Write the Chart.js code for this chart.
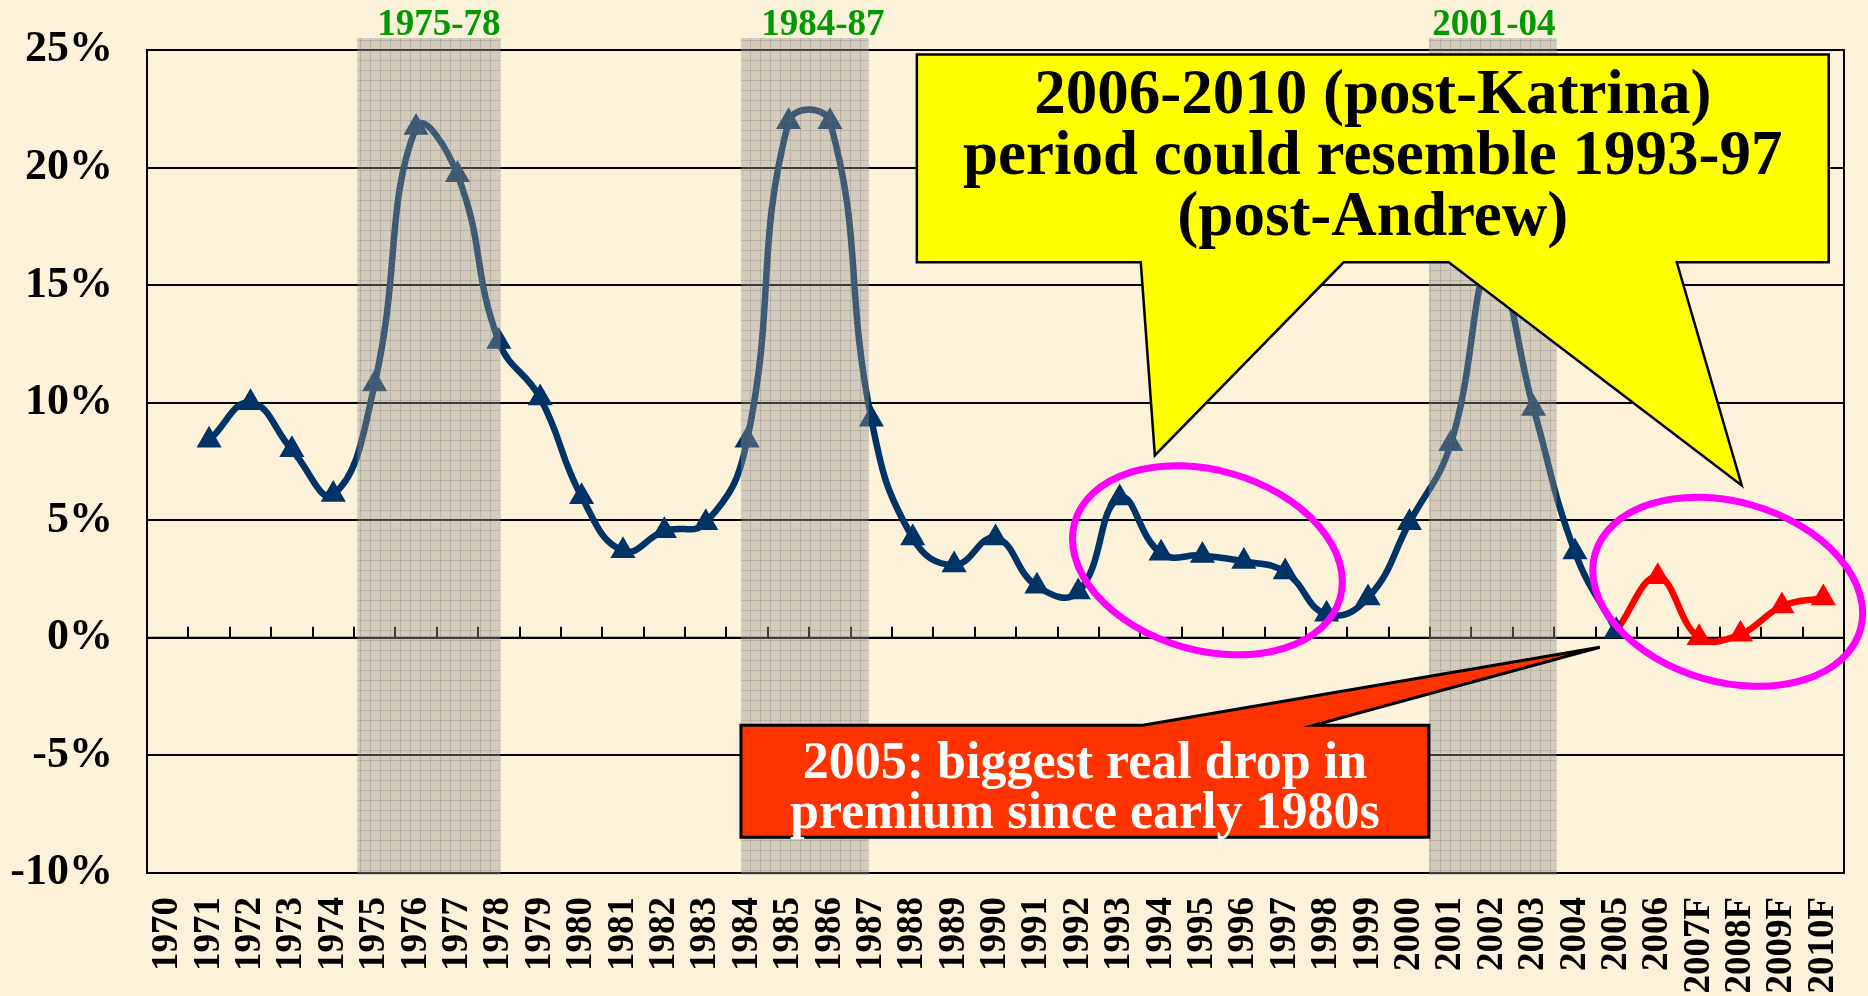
<!DOCTYPE html>
<html>
<head>
<meta charset="utf-8">
<script src="https://cdn.jsdelivr.net/npm/chart.js@4.4.1/dist/chart.umd.min.js"></script>
<style>
html,body{margin:0;padding:0;background:#fcf2da;}
canvas{display:block;}
</style>
</head>
<body>
<canvas id="c" width="1868" height="996"></canvas>
<script>
// ---------- data ----------
const years = ['1970','1971','1972','1973','1974','1975','1976','1977','1978','1979',
  '1980','1981','1982','1983','1984','1985','1986','1987','1988','1989',
  '1990','1991','1992','1993','1994','1995','1996','1997','1998','1999',
  '2000','2001','2002','2003','2004','2005','2006','2007F','2008F','2009F','2010F'];

const actualGrowth = [null, 8.4, 10.0, 8.0, 6.1, 10.8, 21.7, 19.7, 12.6, 10.2,
  6.0, 3.7, 4.55, 4.9, 8.4, 21.95, 21.95, 9.3, 4.25, 3.1,
  4.25, 2.2, 1.95, 5.95, 3.6, 3.5, 3.25, 2.8, 1.0, 1.7,
  4.9, 8.25, 16.0, 9.75, 3.65, 0.3, null, null, null, null, null];

const forecastGrowth = [null, null, null, null, null, null, null, null, null, null,
  null, null, null, null, null, null, null, null, null, null,
  null, null, null, null, null, null, null, null, null, null,
  null, null, null, null, null, 0.3, 2.6, 0.0, 0.15, 1.35, 1.7];

const yMin = -10, yMax = 25, yStep = 5;

// hard-market periods (category index range) and their labels
const hardMarketLabels = ['1975-78', '1984-87', '2001-04'];
const hardMarketFrom   = [4.58, 13.85, 30.47];
const hardMarketTo     = [8.04, 16.94, 33.56];
const hardMarketLabelAt = [6.55, 15.83, 32.04];

// callout texts
const yellowText = ['2006-2010 (post-Katrina)', 'period could resemble 1993-97', '(post-Andrew)'];
const redText = ['2005: biggest real drop in', 'premium since early 1980s'];

// ---------- annotation geometry (in data units: [category index, value]) ----------
const yellowShape = [[18.10,24.81],[40.13,24.81],[40.13,15.97],[36.46,15.97],[38.03,6.48],
  [30.95,15.97],[28.41,15.97],[23.85,7.76],[23.51,15.97],[18.10,15.97]];
const redShape = [[13.85,-3.72],[23.56,-3.72],[34.60,-0.40],[27.69,-3.72],[30.47,-3.72],
  [30.47,-8.48],[13.85,-8.48]];
const ellipseCenters = [[25.12, 3.30],[37.69, 1.96]];

const BG = '#fcf2da';
const SERIF = "'Liberation Serif', 'Times New Roman', serif";

function makeBandPattern(ctx){
  const p = document.createElement('canvas');
  p.width = 10; p.height = 10;
  const g = p.getContext('2d');
  g.fillStyle = 'rgba(150,148,142,0.40)';
  g.fillRect(0,0,10,10);
  g.fillStyle = 'rgba(110,110,110,0.28)';
  g.fillRect(0,0,10,1);
  g.fillRect(0,0,1,10);
  return ctx.createPattern(p, 'repeat');
}

const deco = {
  id: 'deco',
  beforeDraw(chart){
    const c = chart.ctx;
    c.save();
    c.fillStyle = BG;
    c.fillRect(0,0,chart.width,chart.height);
    c.restore();
  },
  beforeDatasetsDraw(chart){
    const {ctx, scales:{x,y}, chartArea:a} = chart;
    const y0 = y.getPixelForValue(0);
    ctx.save();
    ctx.strokeStyle = '#000';
    ctx.lineWidth = 2;
    for (let k = 1; k < years.length; k++){
      const px = Math.round(x.getPixelForValue(k - 0.5));
      ctx.beginPath(); ctx.moveTo(px, y0); ctx.lineTo(px, y0 - 11); ctx.stroke();
    }
    ctx.beginPath(); ctx.moveTo(a.left, y0); ctx.lineTo(a.right, y0); ctx.stroke();
    ctx.strokeRect(a.left, a.top, a.right - a.left, a.bottom - a.top);
    ctx.restore();
  },
  afterDatasetsDraw(chart){
    const {ctx, scales:{x,y}, chartArea:a} = chart;
    const P = (pt) => [x.getPixelForValue(pt[0]), y.getPixelForValue(pt[1])];
    ctx.save();
    // hard market bands
    const pat = makeBandPattern(ctx);
    for (let i = 0; i < hardMarketLabels.length; i++){
      const x1 = x.getPixelForValue(hardMarketFrom[i]);
      const x2 = x.getPixelForValue(hardMarketTo[i]);
      ctx.fillStyle = pat;
      ctx.fillRect(x1, a.top - 12, x2 - x1, a.bottom - a.top + 14);
      ctx.fillStyle = '#009900';
      ctx.font = 'bold 37px ' + SERIF;
      ctx.textAlign = 'center';
      ctx.textBaseline = 'alphabetic';
      ctx.fillText(hardMarketLabels[i], x.getPixelForValue(hardMarketLabelAt[i]), a.top - 15);
    }
    function poly(shape, fill, lw){
      ctx.beginPath();
      shape.forEach((pt, i) => { const [px, py] = P(pt); if (i === 0) ctx.moveTo(px, py); else ctx.lineTo(px, py); });
      ctx.closePath();
      ctx.fillStyle = fill; ctx.fill();
      ctx.lineWidth = lw; ctx.strokeStyle = '#000'; ctx.lineJoin = 'miter'; ctx.stroke();
    }
    // ellipses
    ctx.strokeStyle = '#ff00ff';
    ctx.lineWidth = 7;
    ellipseCenters.forEach(c => {
      const [cx, cy] = P(c);
      ctx.beginPath();
      ctx.ellipse(cx, cy, 138, 90, 16 * Math.PI / 180, 0, Math.PI * 2);
      ctx.stroke();
    });
    poly(yellowShape, '#ffff00', 2.5);
    poly(redShape, '#ff3300', 3);
    // texts
    ctx.textAlign = 'center';
    ctx.textBaseline = 'alphabetic';
    const [yl, yt] = P(yellowShape[0]); const [yr] = P(yellowShape[1]);
    ctx.fillStyle = '#000';
    ctx.font = 'bold 63px ' + SERIF;
    yellowText.forEach((t, i) => ctx.fillText(t, (yl + yr) / 2, yt + 59 + i * 61));
    const [rl, rt] = P(redShape[0]); const [rr] = P(redShape[4]);
    ctx.fillStyle = '#ffffff';
    ctx.font = 'bold 52px ' + SERIF;
    redText.forEach((t, i) => ctx.fillText(t, (rl + rr) / 2, rt + 53 + i * 50));
    ctx.restore();
  }
};

const chart = new Chart(document.getElementById('c'), {
  type: 'line',
  data: {
    labels: years,
    datasets: [
      {
        label: 'Actual',
        data: actualGrowth,
        borderColor: '#003366',
        backgroundColor: '#003366',
        borderWidth: 6.5,
        pointStyle: 'triangle',
        pointRadius: 13,
        pointBorderWidth: 1.5,
        pointBackgroundColor: '#003366',
        pointBorderColor: '#003366',
        tension: 0.45,
        spanGaps: false
      },
      {
        label: 'Forecast',
        data: forecastGrowth,
        borderColor: '#ff0000',
        backgroundColor: '#ff0000',
        borderWidth: 6.5,
        pointStyle: 'triangle',
        pointRadius: (c) => c.dataIndex === 35 ? 0 : 13,
        pointBorderWidth: 1.5,
        pointBackgroundColor: '#ff0000',
        pointBorderColor: '#ff0000',
        tension: 0.4
      }
    ]
  },
  options: {
    responsive: false,
    animation: false,
    devicePixelRatio: 1,
    layout: { padding: { top: 50, right: 24, bottom: 0, left: 0 } },
    plugins: { legend: { display: false }, tooltip: { enabled: false } },
    scales: {
      x: {
        type: 'category',
        offset: true,
        grid: { display: false, drawTicks: false },
        border: { display: false },
        ticks: {
          autoSkip: false,
          maxRotation: 90,
          minRotation: 90,
          padding: 24,
          color: '#000',
          font: { family: SERIF, weight: 'bold', size: 37 }
        },
        afterFit(s){ s.height = 123; s.paddingLeft = 0; s.paddingRight = 0; }
      },
      y: {
        min: yMin,
        max: yMax,
        grid: { color: '#000', lineWidth: 2, drawTicks: false },
        border: { display: true, color: '#000', width: 2 },
        ticks: {
          stepSize: yStep,
          padding: 34,
          color: '#000',
          font: { family: SERIF, weight: 'bold', size: 44 },
          callback: (v) => v + '%'
        },
        afterFit(s){ s.width = 147; s.paddingTop = 0; s.paddingBottom = 0; }
      }
    }
  },
  plugins: [deco]
});
</script>
</body>
</html>
